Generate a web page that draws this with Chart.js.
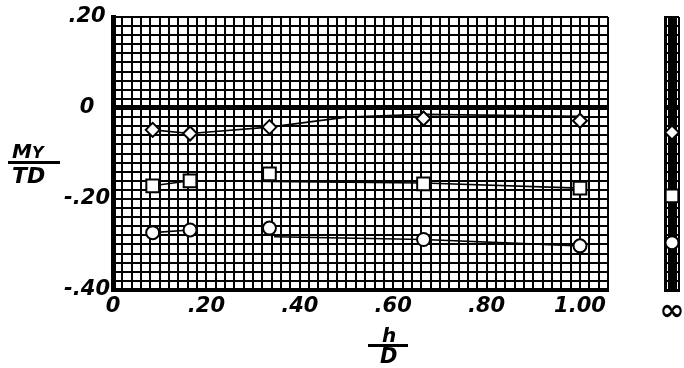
<!DOCTYPE html>
<html>
<head>
<meta charset="utf-8">
<script src="https://cdn.jsdelivr.net/npm/chart.js@4"></script>
<style>
    html, body { margin: 0; padding: 0; background: #fff; }
    body { width: 684px; height: 368px; overflow: hidden; position: relative; }
    canvas { position: absolute; top: 0; }
    #mainChart { left: 0; }
    #infChart { left: 640px; }
    .lbl { position: absolute; font: italic bold 19px "DejaVu Sans"; line-height: 1; color: #000; white-space: nowrap; }
    .bar { position: absolute; height: 3px; background: #000; }
</style>
</head>
<body>
<canvas id="mainChart" width="630" height="368"></canvas>
<canvas id="infChart" width="50" height="368"></canvas>

<div class="lbl" style="left:12px; top:141px; font-size:20px;">M<span style="font-size:16px;">Y</span></div>
<div class="bar" style="left:8px; top:161px; width:52px;"></div>
<div class="lbl" style="left:12px; top:165px; font-size:22px;">TD</div>

<div class="lbl" style="left:382px; top:325px; font-size:20px;">h</div>
<div class="bar" style="left:368px; top:344px; width:40px;"></div>
<div class="lbl" style="left:380px; top:346px; font-size:21px;">D</div>

<script>
// test points, h/D against My/TD
const hD = [0.085, 0.165, 0.335, 0.665, 1.0];
const diamondMy = [-0.048, -0.056, -0.042, -0.023, -0.028];
const squareMy = [-0.171, -0.160, -0.145, -0.167, -0.176];
const circleMy = [-0.274, -0.268, -0.264, -0.289, -0.303];

// faired curves as drawn on the sheet
const diamondFairX = [0.085, 0.165, 0.335, 0.50, 0.665, 1.0];
const diamondFairY = [-0.048, -0.056, -0.042, -0.020, -0.014, -0.018];
const squareFairX = [0.085, 0.165, 0.665, 1.0];
const squareFairY = [-0.171, -0.160, -0.165, -0.176];
const circleFairX = [0.085, 0.165, 0.25, 0.345, 0.665, 1.0];
const circleFairY = [-0.274, -0.268, null, -0.283, -0.289, -0.303];

// values at h/D = infinity (separate strip)
const infPos = 2;
const infDiamond = -0.054;
const infSquare = -0.193;
const infCircle = -0.296;

// axis ticks
const xMin = 0, xMax = 1.06, xStep = 0.02;
const yMin = -0.40, yMax = 0.20, yStep = 0.02;

const tickFont = { family: 'DejaVu Sans', size: 21, style: 'italic', weight: 'bold' };

function toPoints(xs, ys) {
    return xs.map(function(x, i) { return { x: x, y: ys[i] }; });
}

function isMajor(v) {
    return Math.abs(v * 5 - Math.round(v * 5)) < 1e-6;
}

function fmt(v) {
    if (Math.abs(v) < 1e-9) return '0';
    return v.toFixed(2).replace(/^(-?)0\./, '$1.');
}

function markers(data, style, radius) {
    return {
        data: data,
        showLine: false,
        pointStyle: style,
        pointRadius: radius,
        pointBorderWidth: 2,
        pointBorderColor: '#000',
        pointBackgroundColor: '#fff',
        order: 0
    };
}

function fairing(data) {
    return {
        data: data,
        showLine: true,
        spanGaps: false,
        borderColor: '#000',
        borderWidth: 1.6,
        pointRadius: 0,
        order: 1
    };
}

function gridWidth(ctx) {
    return Math.abs(ctx.tick.value) < 1e-9 ? 5 : 2;
}

Chart.defaults.animation = false;
Chart.defaults.color = '#000';

new Chart(document.getElementById('mainChart'), {
    type: 'scatter',
    data: {
        datasets: [
            markers(toPoints(hD, diamondMy), 'rectRot', 7),
            markers(toPoints(hD, squareMy), 'rect', 9),
            markers(toPoints(hD, circleMy), 'circle', 6.5),
            fairing(toPoints(diamondFairX, diamondFairY)),
            fairing(toPoints(squareFairX, squareFairY)),
            fairing(toPoints(circleFairX, circleFairY))
        ]
    },
    options: {
        responsive: false,
        layout: { padding: { top: 17, right: 22, left: 0, bottom: 0 } },
        plugins: { legend: { display: false }, tooltip: { enabled: false } },
        scales: {
            x: {
                type: 'linear',
                min: xMin,
                max: xMax,
                afterFit: function(scale) { scale.height = 78; },
                border: { color: '#000', width: 4 },
                grid: { color: '#000', lineWidth: 2, drawTicks: false },
                ticks: {
                    stepSize: xStep,
                    autoSkip: false,
                    maxRotation: 0,
                    padding: 4,
                    font: tickFont,
                    callback: function(v) { return isMajor(v) ? fmt(v) : ''; }
                }
            },
            y: {
                min: yMin,
                max: yMax,
                afterFit: function(scale) { scale.width = 113; },
                border: { color: '#000', width: 5 },
                grid: { color: '#000', lineWidth: gridWidth, drawTicks: false },
                ticks: {
                    stepSize: yStep,
                    autoSkip: false,
                    crossAlign: 'center',
                    padding: 3,
                    font: tickFont,
                    callback: function(v) { return isMajor(v) ? fmt(v) : ''; }
                }
            }
        }
    }
});

new Chart(document.getElementById('infChart'), {
    type: 'scatter',
    data: {
        datasets: [
            markers([{ x: infPos, y: infDiamond }], 'rectRot', 7),
            markers([{ x: infPos, y: infSquare }], 'rect', 9),
            markers([{ x: infPos, y: infCircle }], 'circle', 6.5)
        ]
    },
    options: {
        responsive: false,
        layout: { padding: { top: 17, right: 4, left: 0, bottom: 0 } },
        plugins: { legend: { display: false }, tooltip: { enabled: false } },
        scales: {
            x: {
                type: 'linear',
                min: 0,
                max: 4,
                afterFit: function(scale) { scale.height = 78; },
                border: { color: '#000', width: 3 },
                grid: {
                    color: '#000',
                    drawTicks: false,
                    lineWidth: function(ctx) { return ctx.tick.value === infPos ? 6 : 2; }
                },
                ticks: {
                    stepSize: 1,
                    autoSkip: false,
                    maxRotation: 0,
                    padding: 4,
                    font: { family: 'DejaVu Sans', size: 30, style: 'italic', weight: 'bold' },
                    callback: function(v) { return v === infPos ? '∞' : ''; }
                }
            },
            y: {
                min: yMin,
                max: yMax,
                afterFit: function(scale) { scale.width = 25; },
                border: { color: '#000', width: 3 },
                grid: { color: '#000', lineWidth: gridWidth, drawTicks: false },
                ticks: {
                    stepSize: yStep,
                    autoSkip: false,
                    callback: function() { return ''; }
                }
            }
        }
    }
});
</script>
</body>
</html>
